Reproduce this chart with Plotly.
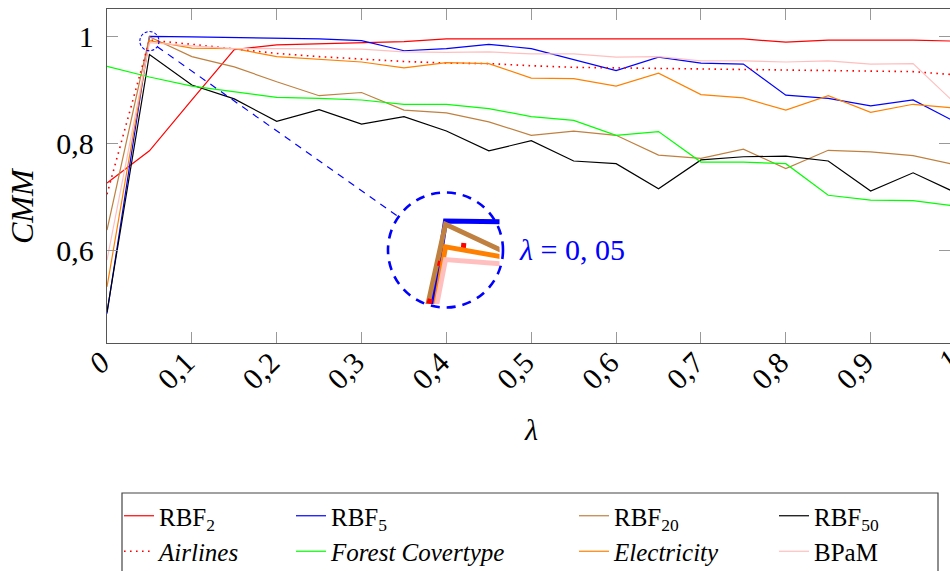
import plotly.graph_objects as go

# ---------------- data ----------------
lam = [0.00, 0.05, 0.10, 0.15, 0.20, 0.25, 0.30, 0.35, 0.40, 0.45, 0.50,
       0.55, 0.60, 0.65, 0.70, 0.75, 0.80, 0.85, 0.90, 0.95, 1.00]

rbf2 = [0.726, 0.786, 0.881, 0.975, 0.984, 0.986, 0.987, 0.990, 0.995, 0.995, 0.995,
        0.995, 0.995, 0.995, 0.995, 0.995, 0.989, 0.993, 0.993, 0.993, 0.991]
rbf5 = [0.482, 1.000, 0.999, 0.998, 0.996, 0.995, 0.992, 0.973, 0.977, 0.985, 0.977,
        0.957, 0.936, 0.961, 0.950, 0.948, 0.890, 0.884, 0.870, 0.881, 0.840]
rbf20 = [0.638, 0.999, 0.962, 0.943, 0.915, 0.889, 0.895, 0.862, 0.857, 0.840, 0.815,
         0.823, 0.815, 0.778, 0.772, 0.789, 0.753, 0.787, 0.784, 0.777, 0.760]
rbf50 = [0.485, 0.966, 0.909, 0.883, 0.841, 0.863, 0.836, 0.850, 0.823, 0.786, 0.805,
         0.767, 0.762, 0.715, 0.769, 0.775, 0.776, 0.767, 0.711, 0.745, 0.708]
airlines = [0.705, 0.993, 0.985, 0.976, 0.968, 0.962, 0.957, 0.953, 0.950, 0.949, 0.945,
            0.942, 0.941, 0.940, 0.939, 0.938, 0.937, 0.935, 0.935, 0.934, 0.928]
forest = [0.944, 0.924, 0.907, 0.896, 0.886, 0.884, 0.881, 0.873, 0.873, 0.865, 0.850,
          0.843, 0.815, 0.822, 0.765, 0.765, 0.762, 0.703, 0.694, 0.693, 0.683]
electricity = [0.532, 0.992, 0.978, 0.977, 0.962, 0.957, 0.952, 0.941, 0.951, 0.949, 0.922,
               0.921, 0.907, 0.931, 0.891, 0.885, 0.862, 0.889, 0.858, 0.873, 0.866]
bpam = [0.582, 0.988, 0.982, 0.977, 0.977, 0.976, 0.976, 0.971, 0.970, 0.971, 0.967,
        0.967, 0.961, 0.962, 0.954, 0.954, 0.952, 0.954, 0.948, 0.949, 0.874]

x_tickvals = [0, 0.1, 0.2, 0.3, 0.4, 0.5, 0.6, 0.7, 0.8, 0.9]
x_ticktext = ["<i>0</i>", "0,1", "0,2", "0,3", "0,4", "0,5", "0,6", "0,7", "0,8", "0,9"]
x_last_label = "<i>1</i>"
y_tickvals = [0.6, 0.8, 1.0]
y_ticktext = ["0,6", "0,8", "1"]

# name, values, colour, dash, legend column
series = [
    ("RBF<sub>2</sub>", rbf2, "#ff0000", "solid", "legend"),
    ("RBF<sub>5</sub>", rbf5, "#0000ff", "solid", "legend2"),
    ("RBF<sub>20</sub>", rbf20, "#bf8040", "solid", "legend3"),
    ("RBF<sub>50</sub>", rbf50, "#000000", "solid", "legend4"),
    ("<i>Airlines</i>", airlines, "#ff0000", "dot", "legend"),
    ("<i>Forest Covertype</i>", forest, "#00ff00", "solid", "legend2"),
    ("<i>Electricity</i>", electricity, "#ff8000", "solid", "legend3"),
    ("BPaM", bpam, "#ffbfbf", "solid", "legend4"),
]

# ---------------- layout geometry ----------------
W, H = 950, 571
ML, MT, MR, MB = 107, 9, 0, 228
PW, PH = W - ML - MR, H - MT - MB
XR = [0, 0.9935]
YR = [0.427, 1.051]
sx = PW / (XR[1] - XR[0])
sy = PH / (YR[1] - YR[0])

def px2paper(px, py):
    return (px - ML) / PW, (H - MB - py) / PH

def data2px(x, y):
    return ML + (x - XR[0]) * sx, MT + (YR[1] - y) * sy

FONT = "Liberation Serif, DejaVu Serif, serif"

# inset (spy) geometry
mag = 6.0
spy_c = (0.05, 0.991)
big_c = (445.5, 250.0)
big_r = 57.5
small_r = big_r / mag
half = 54.0
bx0, by0 = px2paper(big_c[0] - half, big_c[1] + half)
bx1, by1 = px2paper(big_c[0] + half, big_c[1] - half)
ixr = [spy_c[0] - half / (mag * sx), spy_c[0] + half / (mag * sx)]
iyr = [spy_c[1] - half / (mag * sy), spy_c[1] + half / (mag * sy)]

fig = go.Figure()
for i, (name, ys, col, dash, leg) in enumerate(series):
    fig.add_trace(go.Scatter(
        x=lam, y=ys, mode="lines", name=name, legend=leg, legendgroup="g%d" % i,
        line=dict(color=col, width=1.2 if dash == "solid" else 1.6,
                  dash="solid" if dash == "solid" else "1.6px,4.4px")))
for name, ys, col, dash, leg in series:
    fig.add_trace(go.Scatter(
        x=lam, y=ys, mode="lines", showlegend=False, xaxis="x2", yaxis="y2",
        line=dict(color=col, width=5, dash="solid" if dash == "solid" else "5px,34px")))

# connecting dashed line between the two circles
scx, scy = data2px(*spy_c)
vx, vy = big_c[0] - scx, big_c[1] - scy
L = (vx ** 2 + vy ** 2) ** 0.5
ux, uy = vx / L, vy / L
p0 = px2paper(scx + ux * small_r, scy + uy * small_r)
p1 = px2paper(big_c[0] - ux * big_r, big_c[1] - uy * big_r)
bcx, bcy = px2paper(*big_c)

# legend frame
fx0, fy0 = px2paper(122, 493)
fx1, fy1 = px2paper(938, 640)

shapes = [
    dict(type="line", xref="paper", yref="paper", x0=p0[0], y0=p0[1], x1=p1[0], y1=p1[1],
         line=dict(color="#0000ff", width=1.2, dash="7px,6px"), layer="above"),
    dict(type="circle", xref="x", yref="y", xsizemode="pixel", ysizemode="pixel",
         xanchor=spy_c[0], yanchor=spy_c[1], x0=-small_r, x1=small_r, y0=-small_r, y1=small_r,
         line=dict(color="#0000ff", width=1.1, dash="3px,2px"), layer="above"),
    dict(type="circle", xref="paper", yref="paper", xsizemode="pixel", ysizemode="pixel",
         xanchor=bcx, yanchor=bcy, x0=-big_r, x1=big_r, y0=-big_r, y1=big_r,
         line=dict(color="#0000ff", width=2.6, dash="9px,7px"), layer="above"),
    dict(type="rect", xref="paper", yref="paper", x0=fx0, y0=fy1, x1=fx1, y1=fy0,
         line=dict(color="#444444", width=1.2), fillcolor="rgba(0,0,0,0)", layer="above"),
]

lx, ly = px2paper(572, 249)
tx, ty = px2paper(531, 430)
yx, yy = px2paper(22, 175)
lastx = (956 - ML) / PW
annotations = [
    dict(text="<i>λ</i> = 0, 05", xref="paper", yref="paper", x=lx, y=ly,
         xanchor="center", yanchor="middle",
         showarrow=False, font=dict(family=FONT, size=30, color="#0000ff")),
    dict(text="<i>λ</i>", xref="paper", yref="paper", x=tx, y=ty,
         xanchor="center", yanchor="middle",
         showarrow=False, font=dict(family=FONT, size=30, color="#000000")),
    dict(text="<i>CMM</i>", xref="paper", yref="paper", x=yx, y=yy, textangle=-90,
         xanchor="center", yanchor="middle", yshift=-31,
         showarrow=False, font=dict(family=FONT, size=32, color="#000000")),
    dict(text=x_last_label, xref="paper", yref="paper", x=lastx, y=0,
         xanchor="right", yanchor="top", xshift=12, yshift=2, textangle=-45, showarrow=False,
         font=dict(family=FONT, size=30, color="#000000")),
]

def leg(px_left, py_top):
    x, y = px2paper(px_left, py_top)
    return dict(orientation="v", x=x, y=y, xanchor="left", yanchor="top",
                font=dict(family=FONT, size=25, color="black"),
                borderwidth=0, bgcolor="rgba(0,0,0,0)", tracegroupgap=0)

fig.update_layout(
    width=W, height=H,
    margin=dict(l=ML, r=MR, t=MT, b=MB, autoexpand=False),
    paper_bgcolor="white", plot_bgcolor="rgba(0,0,0,0)",
    font=dict(family=FONT, size=30, color="black"),
    showlegend=True,
    legend=leg(119, 493),
    legend2=leg(291, 493),
    legend3=leg(574, 493),
    legend4=leg(774, 493),
    xaxis=dict(range=XR, domain=[0, 1], tickmode="array", tickvals=x_tickvals, ticktext=x_ticktext,
               tickangle=-45, ticks="inside", ticklen=11, tickcolor="#999999", tickwidth=1,
               showline=True, linecolor="#555555", linewidth=1.3, mirror="ticks",
               showgrid=False, zeroline=False, tickfont=dict(size=30),
               ticklabelstandoff=-11, ticklabelshift=-6),
    yaxis=dict(range=YR, domain=[0, 1], tickmode="array", tickvals=y_tickvals, ticktext=y_ticktext,
               ticks="inside", ticklen=11, tickcolor="#999999", tickwidth=1,
               showline=True, linecolor="#555555", linewidth=1.3, mirror="ticks",
               showgrid=False, zeroline=False, tickfont=dict(size=30), ticklabelstandoff=6),
    xaxis2=dict(range=ixr, domain=[bx0, bx1], anchor="y2", visible=False, showgrid=False),
    yaxis2=dict(range=iyr, domain=[by0, by1], anchor="x2", visible=False, showgrid=False),
    shapes=shapes,
    annotations=annotations,
)

fig.write_html("out.html", config={"displayModeBar": False},
               post_script="document.body.style.margin='0';document.body.style.overflow='hidden';")
